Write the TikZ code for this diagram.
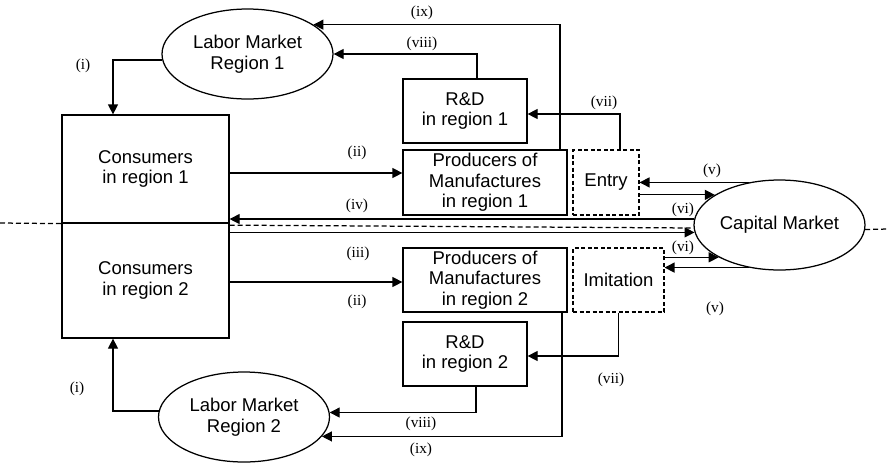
\documentclass[tikz,border=0pt]{standalone}
\usepackage{fontspec}
\setmainfont{Liberation Serif}
\newfontfamily\boxfont{Liberation Sans}
\usetikzlibrary{arrows.meta,shapes.geometric}
\begin{document}
\begin{tikzpicture}[x=1pt,y=-1pt,
  box/.style={draw, line width=1.25pt, rectangle, inner sep=0pt, align=center,
    font=\boxfont\fontsize{18.5}{20.5}\selectfont},
  dbox/.style={box, line width=1.1pt, dash pattern=on 4pt off 2.5pt},
  mkt/.style={draw, ellipse, line width=1.25pt, inner sep=0pt, align=center,
    minimum width=171pt, minimum height=90pt,
    font=\boxfont\fontsize{18.5}{20.5}\selectfont},
  link/.style={line width=1.25pt, -{Triangle[length=10pt,width=10pt]}},
  lbl/.style={inner sep=0pt, font=\fontsize{15.3}{17}\selectfont},
  border/.style={line width=1.25pt, dash pattern=on 5pt off 3pt}]

\fill[white] (0,0) rectangle (889,464);
\useasboundingbox (0,0) rectangle (889,464);

% consumers, split by the regional border
\node[box, minimum width=167pt, minimum height=108pt] (cons1) at (145.5,169) {Consumers\\in region 1};
\node[box, minimum width=167pt, minimum height=115pt] (cons2) at (145.5,280.5) {Consumers\\in region 2};

% producers, R&D, entry and imitation
\node[box, minimum width=164pt, minimum height=65pt] (prod1) at (485,182.5) {Producers of\\Manufactures\\in region 1};
\node[box, minimum width=124pt, minimum height=64pt] (rd1) at (465,111) {R\&D\\in region 1};
\node[dbox, minimum width=66pt, minimum height=65pt] (entry) at (606,182.5) {Entry};
\node[box, minimum width=164pt, minimum height=64pt] (prod2) at (485,280) {Producers of\\Manufactures\\in region 2};
\node[dbox, minimum width=91pt, minimum height=64pt] (imit) at (618.5,280) {Imitation};
\node[box, minimum width=124pt, minimum height=64pt] (rd2) at (465,354) {R\&D\\in region 2};

% markets
\node[mkt] (lab1) at (247.5,54) {Labor Market\\Region 1};
\node[mkt] (lab2) at (244,417) {Labor Market\\Region 2};
\node[mkt] (cap) at (779.5,225) {Capital Market};

% regional border
\coordinate (lft) at (0,223);
\coordinate (rgt) at (889,229);
\draw[border] (lft) -- (cons1.south west);
\draw[border] ([yshift=-1.5pt]cons1.south east) -- (cap.182);
\draw[border] (cap.-3) -- (rgt);

% (i) labour supply
\draw[link] (lab1.184) -| ([xshift=-32.5pt]cons1.north);
\draw[link] (lab2.176) -| ([xshift=-32.5pt]cons2.south);

% (ii) demand for manufactures
\draw[link] ([yshift=-4pt]cons1.east) -- ([yshift=-4pt]cons1.east -| prod1.west);
\draw[link] ([yshift=-1.5pt]cons2.east) -- ([yshift=-1.5pt]cons2.east -| prod2.west);

% (iii), (iv) savings and returns
\draw[link] (cap.176) -- (cap.176 -| cons1.east);
\draw[link] (cap.185 -| cons2.east) -- (cap.185);

% (v), (vi) capital market and entry / imitation
\draw[link] (cap.126) -- (cap.126 -| entry.east);
\draw[link] (cap.155 -| entry.east) -- (cap.155);
\draw[link] (cap.208 -| imit.east) -- (cap.208);
\draw[link] (cap.234) -- (cap.234 -| imit.east);

% (vii) entry / imitation to R&D
\draw[link] ([xshift=14pt]entry.north) |- ([yshift=-3pt]rd1.east);
\draw[link] (imit.south) |- ([yshift=-2pt]rd2.east);

% (viii), (ix) labour demand
\draw[link] ([xshift=12pt]rd1.north) |- (lab1.east);
\draw[link] ([xshift=75pt]prod1.north) |- (lab1.24);
\draw[link] ([xshift=11pt]rd2.south) |- (lab2.3);
\draw[link] ([xshift=77pt]prod2.south) |- (lab2.-14);

% labels
\node[lbl] (ta) at (83,66) {(i)};
\node[lbl] (tb) at (77,389) {(i)};
\node[lbl] (tc) at (357,153) {(ii)};
\node[lbl] (td) at (357,302) {(ii)};
\node[lbl] (te) at (358,254) {(iii)};
\node[lbl] (tf) at (357,206) {(iv)};
\node[lbl] (tg) at (712,171) {(v)};
\node[lbl] (th) at (715,309) {(v)};
\node[lbl] (ti) at (683,210) {(vi)};
\node[lbl] (tj) at (683,248) {(vi)};
\node[lbl] (tk) at (604,103) {(vii)};
\node[lbl] (tl) at (611,380) {(vii)};
\node[lbl] (tm) at (422,44) {(viii)};
\node[lbl] (tn) at (421,424) {(viii)};
\node[lbl] (to) at (422,13) {(ix)};
\node[lbl] (tp) at (421,450) {(ix)};
\end{tikzpicture}
\end{document}
